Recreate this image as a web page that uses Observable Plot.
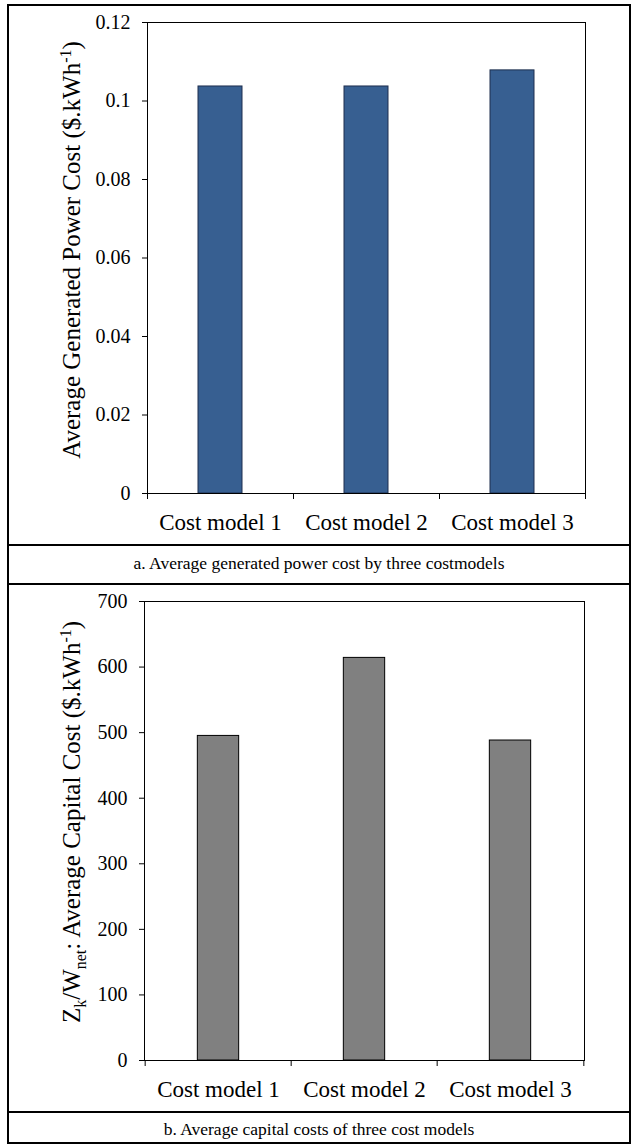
<!DOCTYPE html>
<html>
<head>
<meta charset="utf-8">
<script src="https://cdn.jsdelivr.net/npm/d3@7"></script>
<script src="https://cdn.jsdelivr.net/npm/@observablehq/plot@0.6"></script>
<style>
  body { margin: 0; background: #fff; }
  #page { position: relative; width: 637px; height: 1146px; overflow: hidden; background: #fff;
          font-family: "Liberation Serif", "Times New Roman", serif; color: #000; }
  #page svg text { font-family: "Liberation Serif", "Times New Roman", serif; }
  .box { position: absolute; left: 7px; top: 4px; width: 624px; height: 1140px;
         border: 2.5px solid #000; box-sizing: border-box; }
  .sep { position: absolute; left: 7px; width: 624px; height: 0; border-top: 2.5px solid #000; }
  .cap { position: absolute; left: 7px; width: 624px; text-align: center; font-size: 17.5px; line-height: 20px; }
  .chart { position: absolute; left: 0; }
  .chart svg { display: block; }
</style>
</head>
<body>
<div id="page">
  <div class="chart" id="chartA" style="top:0px"></div>
  <div class="chart" id="chartB" style="top:584px"></div>
  <div class="sep" style="top:544px"></div>
  <div class="sep" style="top:583px"></div>
  <div class="sep" style="top:1111px"></div>
  <div class="cap" id="capA" style="top:553px"></div>
  <div class="cap" id="capB" style="top:1119px"></div>
  <div class="box"></div>
</div>
<script>
// Cost models compared in both panels
const models = ["Cost model 1", "Cost model 2", "Cost model 3"];

// Panel a: average generated power cost ($/kWh)
const powerCost = [0.1037, 0.1037, 0.1078];
const powerTicks = [0, 0.02, 0.04, 0.06, 0.08, 0.1, 0.12];

// Panel b: average capital cost Zk/Wnet ($/kWh)
const capitalCost = [495, 614, 488];
const capitalTicks = [0, 100, 200, 300, 400, 500, 600, 700];

// Panel captions
const captionA = "a. Average generated power cost by three costmodels";
const captionB = "b. Average capital costs of three cost models";

// Rich y-axis titles: [text, kind] where kind is "", "sub" or "sup"
const titleA = [["Average Generated Power Cost ($.kWh", ""], ["-1", "sup"], [")", ""]];
const titleB = [["Z", ""], ["k", "sub"], ["/W", ""], ["net", "sub"], [": Average Capital Cost ($.kWh", ""], ["-1", "sup"], [")", ""]];

const FONT = '"Liberation Serif", "Times New Roman", serif';
const TITLE_SIZE = 25;

function barPanel({values, ticks, height, marginTop, marginBottom, marginLeft, marginRight,
                   fill, stroke, barWidth, title, titleOffset, titleShift}) {
  const W = 637;
  const data = models.map((m, i) => ({model: m, value: values[i]}));
  const bw = (W - marginLeft - marginRight) / models.length;
  const inset = (bw - barWidth) / 2;
  const plain = title.map(d => d[0]).join("");
  const svg = Plot.plot({
    width: W, height, marginTop, marginBottom, marginLeft, marginRight,
    style: {fontFamily: FONT, fontSize: "20px", color: "#000", background: "transparent", overflow: "visible"},
    x: {domain: models, padding: 0, label: null},
    y: {domain: [0, ticks[ticks.length - 1]], label: null},
    marks: [
      Plot.barY(data, {x: "model", y: "value", fill, stroke, strokeWidth: 1, insetLeft: inset, insetRight: inset}),
      Plot.frame({stroke: "#000", strokeWidth: 1}),
      Plot.axisY({ticks, tickFormat: d => String(d), tickSize: 5, tickPadding: 12, fontSize: 20, label: null}),
      Plot.axisX({tickSize: 0, tickPadding: 20, fontSize: 23, label: null}),
      // category boundary ticks below the baseline
      Plot.ruleX(models, {x: d => d, y1: 0, y2: 0, dx: -bw / 2, insetBottom: -6, stroke: "#000"}),
      Plot.ruleX(models.slice(-1), {x: d => d, y1: 0, y2: 0, dx: bw / 2, insetBottom: -6, stroke: "#000"}),
      Plot.text([plain], {text: d => d, frameAnchor: "left", rotate: -90, dx: -titleOffset, dy: titleShift,
                          textAnchor: "middle", lineAnchor: "top", fontSize: TITLE_SIZE})
    ]
  });
  // rebuild the axis title with sub/superscripts
  d3.select(svg).selectAll("text").filter(function() { return this.textContent === plain; })
    .each(function() {
      const t = d3.select(this);
      t.text(null);
      let shift = 0;
      for (const [str, kind] of title) {
        const target = kind === "sup" ? -9 : kind === "sub" ? 6 : 0;
        t.append("tspan")
          .attr("dy", target - shift)
          .attr("font-size", kind ? 16 : TITLE_SIZE)
          .text(str);
        shift = target;
      }
    });
  return svg;
}

document.getElementById("chartA").append(barPanel({
  values: powerCost, ticks: powerTicks,
  height: 545, marginTop: 22, marginBottom: 52, marginLeft: 147, marginRight: 52,
  fill: "#375F91", stroke: "#1E2F4E", barWidth: 44,
  title: titleA, titleOffset: 85, titleShift: -8
}));

document.getElementById("chartB").append(barPanel({
  values: capitalCost, ticks: capitalTicks,
  height: 528, marginTop: 17, marginBottom: 52, marginLeft: 144, marginRight: 53,
  fill: "#808080", stroke: "#000", barWidth: 42,
  title: titleB, titleOffset: 82, titleShift: -9
}));

document.getElementById("capA").textContent = captionA;
document.getElementById("capB").textContent = captionB;
</script>
</body>
</html>
